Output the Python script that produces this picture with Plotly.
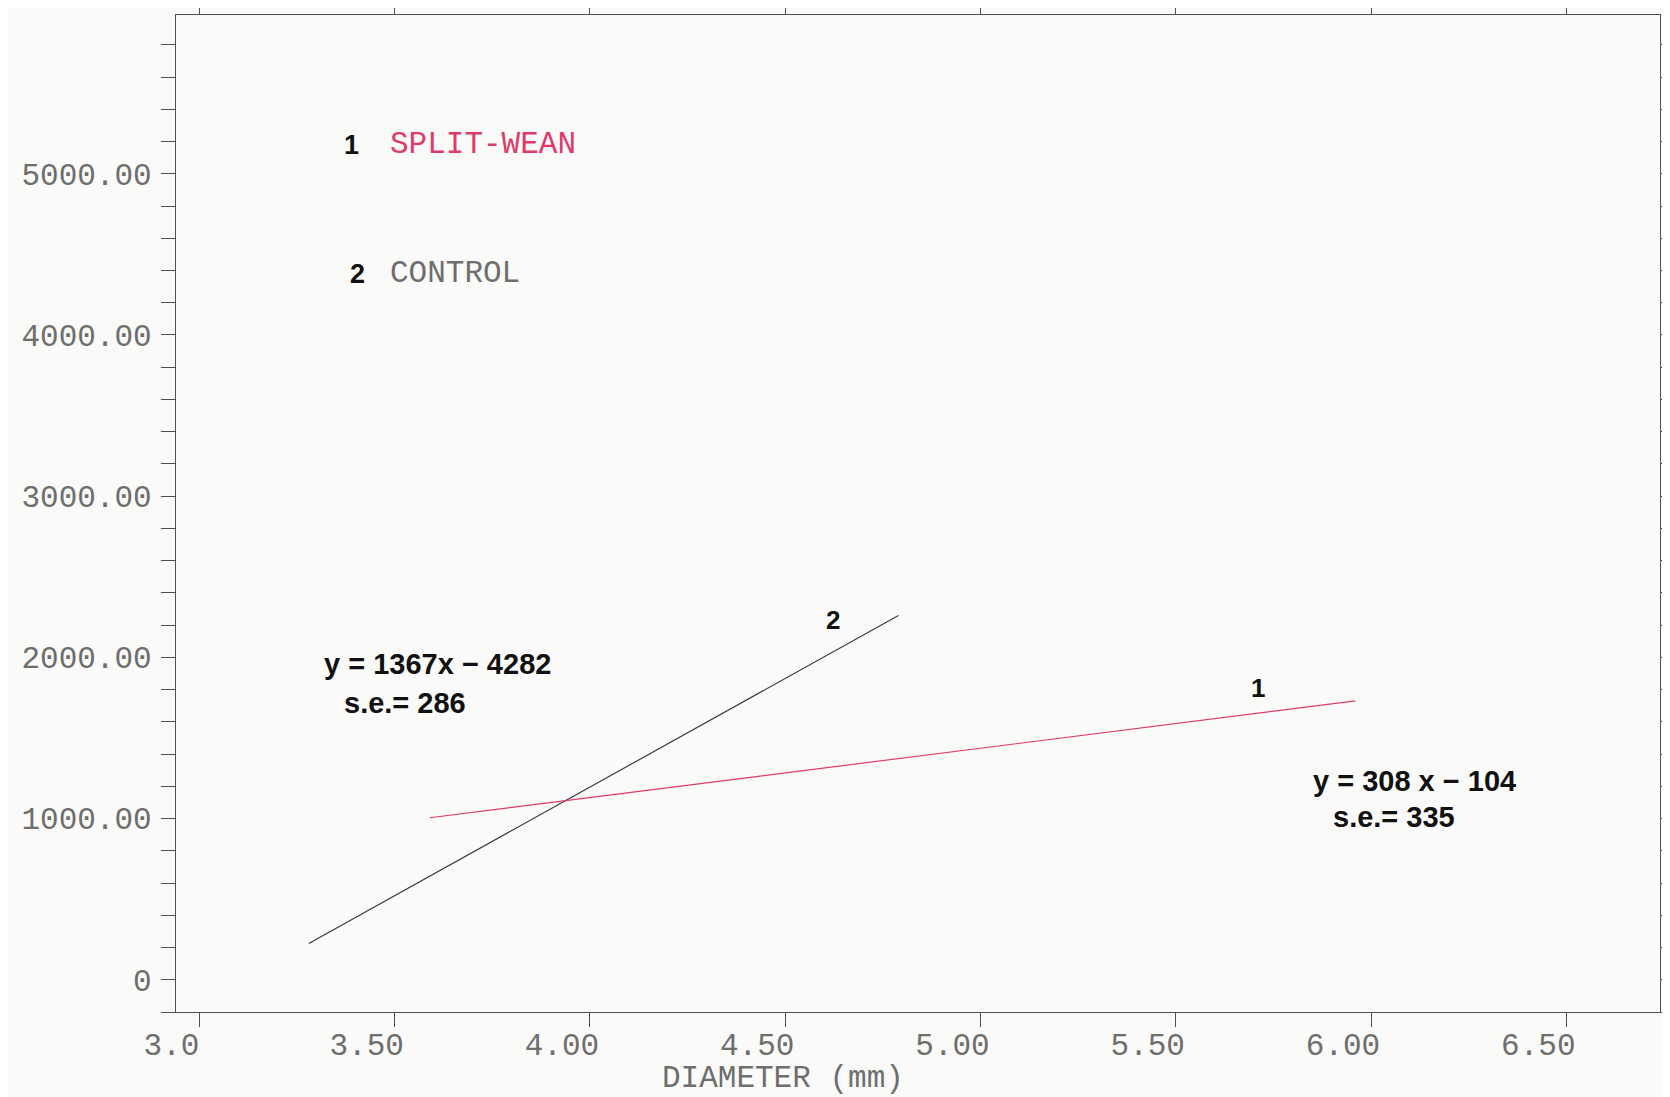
import plotly.graph_objects as go

# ---- data ----
control_x = [3.28, 4.79]
control_y = [225, 2260]
split_x = [3.59, 5.96]
split_y = [1005, 1730]

x_tickvals = [3.0, 3.5, 4.0, 4.5, 5.0, 5.5, 6.0, 6.5]
x_ticktext = ["3.0", "3.50", "4.00", "4.50", "5.00", "5.50", "6.00", "6.50"]
y_tickvals = [0, 1000, 2000, 3000, 4000, 5000]
y_ticktext = ["0", "1000.00", "2000.00", "3000.00", "4000.00", "5000.00"]

RED = "#e03a6c"
DARK = "#3c3c3c"
AX = "#505050"
TICKFONT = dict(family="Liberation Mono", size=31, color="#6e6e6e")
BOLD = dict(family="Liberation Sans", size=29, color="#111111", weight="bold")

W, H = 1670, 1097
OFF = 8  # page body margin offset
# desired plot-area box in page pixels
PL, PR, PT, PB = 176, 1660, 15, 1012
L, T = PL - OFF, PT - OFF
R = W - (PR - OFF)
B = H - (PB - OFF)

fig = go.Figure()
fig.add_trace(go.Scatter(x=control_x, y=control_y, mode="lines",
                         line=dict(color=DARK, width=1.2), showlegend=False, hoverinfo="skip"))
fig.add_trace(go.Scatter(x=split_x, y=split_y, mode="lines",
                         line=dict(color=RED, width=1.2), showlegend=False, hoverinfo="skip"))

def px(xp, yp):
    """page pixel -> paper coords"""
    return (xp - PL) / (PR - PL), 1 - (yp - PT) / (PB - PT)

def ann(text, xp, yp, font, xanchor="left"):
    x, y = px(xp, yp)
    fig.add_annotation(text=text, x=x, y=y, xref="paper", yref="paper",
                       xanchor=xanchor, yanchor="middle", showarrow=False, font=font)

# legend-like labels
ann("1", 351, 145, dict(BOLD, size=27), xanchor="center")
ann("SPLIT-WEAN", 388, 145, dict(TICKFONT, color=RED))
ann("2", 357, 274, dict(BOLD, size=27), xanchor="center")
ann("CONTROL", 388, 274, TICKFONT)

# regression annotations
ann("y = 1367x \u2212 4282", 322, 664, BOLD)
ann("s.e.= 286", 342, 703, BOLD)
ann("y = 308 x \u2212 104", 1311, 781, BOLD)
ann("s.e.= 335", 1331, 817, BOLD)
ann("2", 833, 620, dict(BOLD, size=26), xanchor="center")
ann("1", 1258, 688, dict(BOLD, size=26), xanchor="center")

# axis title
ann("DIAMETER (mm)", 783, 1078, TICKFONT, xanchor="center")

fig.update_layout(
    width=W, height=H,
    margin=dict(l=L, r=R, t=T, b=B, pad=0, autoexpand=False),
    paper_bgcolor="#fafaf8", plot_bgcolor="#fafaf8",
    xaxis=dict(range=[2.94, 6.74], tickvals=x_tickvals, ticktext=x_ticktext,
               automargin=False,
               showgrid=False, zeroline=False, showline=True, linecolor=AX, linewidth=1.2,
               mirror="ticks", ticks="outside", ticklen=14, tickwidth=1.2, tickcolor=AX,
               tickfont=TICKFONT, ticklabelshift=-28, ticklabelstandoff=-9),
    yaxis=dict(range=[-200, 5985], tickvals=y_tickvals, ticktext=y_ticktext,
               automargin=False,
               showgrid=False, zeroline=False, showline=True, linecolor=AX, linewidth=1.2,
               mirror="ticks", ticks="outside", ticklen=14, tickwidth=1.2, tickcolor=AX,
               tickfont=TICKFONT, ticklabelstandoff=3,
               minor=dict(dtick=200, tick0=0, ticks="outside", ticklen=14, tickwidth=1.2,
                          tickcolor=AX, showgrid=False)),
)

fig.write_html("out.html")
